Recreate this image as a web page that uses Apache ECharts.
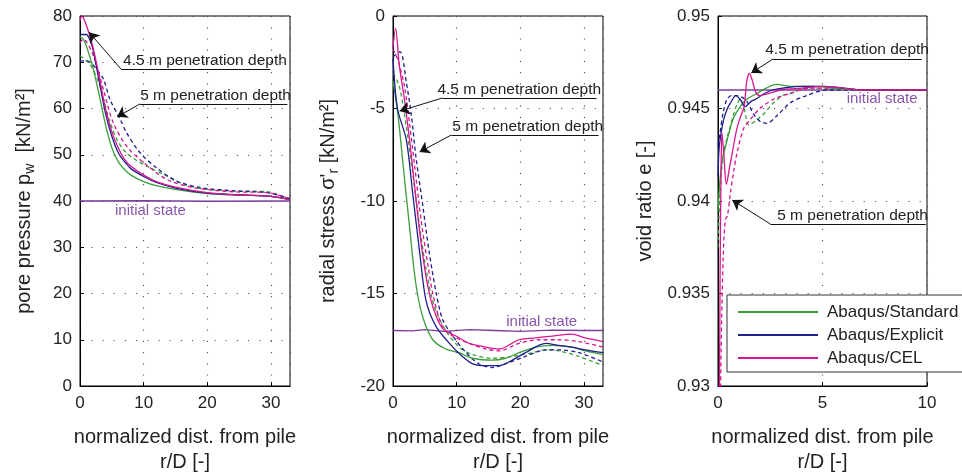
<!DOCTYPE html>
<html>
<head>
<meta charset="utf-8">
<script src="https://cdn.jsdelivr.net/npm/echarts@6/dist/echarts.min.js"></script>
<style>html,body{margin:0;padding:0;background:#fff;}#c{width:962px;height:473px;}</style>
</head>
<body>
<div id="c"></div>
<script>
// ---------- Data: panel 1, pore pressure p_w [kN/m²] vs r/D ----------
const pwStd45 = [[0,75.5],[0.5,75],[1,73.5],[2,69],[3,63],[4,56.5],[5,51.5],[6,48.5],[7,46.8],[8,45.6],[10,44.2],[12,43.3],[15,42.5],[20,41.6],[25,41.3],[28,41.2],[30,41],[33,40.3]];
const pwExp45 = [[0,76],[1,76],[1.5,75],[2,73],[3,66],[4,59],[5,54],[6,50.5],[7,48.5],[8,47],[10,45.3],[12,44],[15,42.8],[20,41.7],[25,41.3],[30,41],[33,40.3]];
const pwCel45 = [[0,79],[0.3,80],[1,78],[2,73.5],[3,67],[4,60],[5,55],[6,51.5],[7,49],[8,47.5],[10,45.6],[12,44.2],[15,43],[20,41.8],[25,41.3],[30,41],[33,40.3]];
const pwStd50 = [[0,71.4],[1.6,69.5],[3.1,65],[4.5,58],[5.8,53.3],[7,50.8],[8.4,49.2],[11,47.2],[13.6,45.4],[16.3,43.6],[20,42.5],[24,42.2],[29.4,42],[32.5,40.7],[33,40.5]];
const pwExp50 = [[0,70.3],[1,70.3],[1.6,70],[2.6,68.5],[3.7,66.3],[4.7,62],[6.3,57.7],[7.3,54.8],[9.4,50.5],[12,47.2],[15.2,44.3],[18.9,42.9],[24,42.2],[29.4,41.8],[32.8,40.6],[33,40.5]];
const pwCel50 = [[0,74.2],[0.5,75],[2.1,71.4],[3.7,64],[5.2,57],[7.3,51.9],[10,48.3],[13.6,44.7],[17.8,42.9],[24,42],[29.4,41.8],[32.8,40.6],[33,40.5]];
const pwInitial = [[0,40],[10,40.05],[20,39.95],[33,40]];

// ---------- Data: panel 2, radial stress σ'_r [kN/m²] vs r/D ----------
const srStd45 = [[0,-3.5],[0.8,-5.4],[1.6,-8.1],[2.6,-11.4],[3.6,-14.5],[4.7,-16.3],[6.25,-17.5],[8.3,-18],[10.4,-18.2],[12.5,-18.5],[15.6,-18.6],[17.7,-18.5],[19.8,-18.2],[22.4,-17.9],[25,-17.8],[28.1,-17.9],[30.2,-18.1],[33,-18.3]];
const srExp45 = [[0,-2.3],[0.7,-5],[2.1,-6.7],[3.1,-9.6],[4.2,-12.8],[5.2,-15.4],[6.8,-16.8],[9.4,-17.9],[10.9,-18.4],[12.5,-18.8],[14.6,-18.9],[16.7,-18.9],[18.75,-18.6],[20.8,-18.2],[24,-17.7],[26,-17.8],[28.1,-17.9],[30.2,-18.05],[33,-18.2]];
const srCel45 = [[0,-1.7],[0.4,-0.67],[1,-2.7],[1.8,-4.5],[2.6,-6.7],[3.4,-9.2],[4.2,-11.7],[5.2,-14.1],[6.25,-15.7],[7.8,-16.9],[9.9,-17.3],[12,-17.7],[14.6,-17.9],[16.7,-18],[19.8,-17.5],[22.4,-17.4],[25,-17.3],[28.1,-17.2],[30.2,-17.4],[33,-17.6]];
const srStd50 = [[0,-3.1],[1,-3.8],[2.1,-6],[3.1,-8.5],[4.2,-11.4],[5.2,-13.7],[6.5,-15.7],[8.3,-17],[10.4,-17.9],[12.5,-18.3],[15.6,-18.5],[18.75,-18.4],[21.9,-18.2],[24,-18.05],[26,-18.1],[29.2,-18.4],[33,-18.9]];
const srExp50 = [[0,-2.2],[1.1,-1.93],[2.1,-3.6],[2.9,-5.4],[3.6,-7.6],[4.7,-10.3],[5.7,-12.8],[6.8,-15],[7.8,-16.4],[9.4,-17.3],[11.5,-18.2],[13.5,-18.8],[15.6,-19],[17.7,-18.8],[20.8,-18.4],[24,-18.05],[26,-18.05],[29.2,-18.2],[33,-18.7]];
const srCel50 = [[0,-1.8],[0.8,-2.4],[1.8,-3.8],[2.6,-5.8],[3.4,-8.1],[4.4,-11],[5.5,-13.5],[6.5,-15.4],[7.8,-16.8],[9.4,-17.3],[12,-17.7],[14.6,-18],[16.7,-18.1],[19.8,-17.7],[22.9,-17.5],[26,-17.5],[29.2,-17.6],[33,-17.9]];
const srInitial = [[0,-17],[3,-17.02],[5,-16.95],[8,-17.05],[12,-16.95],[16,-17],[20,-17.05],[25,-16.98],[30,-17],[33,-17]];

// ---------- Data: panel 3, void ratio e [-] vs r/D ----------
const eStd45 = [[0,0.9395],[0.1,0.9412],[0.2,0.9422],[0.35,0.9429],[0.55,0.9438],[0.75,0.9445],[1.06,0.9451],[1.37,0.9455],[1.85,0.9458],[2.3,0.9461],[2.8,0.9463],[3.5,0.9462],[4.5,0.9462],[6,0.94605],[8,0.946],[10,0.946]];
const eExp45 = [[0,0.9413],[0.05,0.9428],[0.15,0.9437],[0.27,0.9444],[0.45,0.945],[0.6,0.9453],[0.85,0.9457],[1.06,0.9455],[1.3,0.9451],[1.6,0.9454],[1.8,0.9455],[2.2,0.9458],[2.6,0.946],[3.1,0.9461],[4,0.9462],[5.1,0.9462],[7,0.946],[10,0.946]];
const eCel45 = [[0.05,0.925],[0.1,0.936],[0.15,0.942],[0.19,0.9437],[0.28,0.9425],[0.4,0.9409],[0.55,0.9418],[0.73,0.9429],[0.9,0.9439],[1.06,0.9445],[1.25,0.9451],[1.38,0.9465],[1.5,0.9469],[1.62,0.9466],[1.8,0.9459],[2.0,0.9457],[2.4,0.9458],[3.0,0.946],[4,0.9461],[5,0.9462],[7,0.946],[10,0.946]];
const eStd50 = [[0,0.9375],[0.1,0.9405],[0.25,0.9425],[0.43,0.9434],[0.6,0.9441],[0.75,0.9447],[0.9,0.9452],[1.06,0.9455],[1.25,0.945],[1.48,0.9441],[1.86,0.9444],[2.18,0.9447],[2.65,0.9453],[3.1,0.9457],[3.45,0.9458],[4.2,0.9461],[5.5,0.9461],[7,0.946],[10,0.946]];
const eExp50 = [[0,0.943],[0.1,0.9437],[0.25,0.9448],[0.43,0.9455],[0.65,0.9457],[0.9,0.9457],[1.15,0.9456],[1.38,0.9454],[1.7,0.9447],[2.02,0.9443],[2.34,0.9442],[2.81,0.9446],[3.45,0.9453],[4.24,0.9457],[5.2,0.946],[7,0.946],[10,0.946]];
const eCel50 = [[0.08,0.925],[0.15,0.932],[0.25,0.937],[0.35,0.939],[0.45,0.9392],[0.59,0.9404],[0.75,0.9416],[0.91,0.9426],[1.22,0.9439],[1.54,0.9444],[2.0,0.945],[2.65,0.9455],[3.4,0.9458],[4.4,0.9461],[5.5,0.9461],[7,0.946],[10,0.946]];
const eInitial = [[0,0.946],[10,0.946]];

// ---------- Axis ranges / ticks ----------
const xRanges = [[0,33,10],[0,33,10],[0,10,5]];
const yRanges = [[0,80,10],[-20,0,5],[0.93,0.95,0.005]];
const legendNames = ['Abaqus/Standard','Abaqus/Explicit','Abaqus/CEL'];

// ---------- Annotations (data coordinates) ----------
const annotations = [
  [ {text:'4.5 m penetration depth', at:[6.77,70.3], under:[[6.46,68.5],[29.9,68.5]], tip:[1.42,76.5]},
    {text:'5 m penetration depth', at:[9.45,62.7], under:[[9.45,61.0],[32.6,61.0]], tip:[5.83,58.2]} ],
  [ {text:'4.5 m penetration depth', at:[6.98,-4.0], under:[[7.77,-4.43],[31.98,-4.43]], tip:[1.05,-5.14]},
    {text:'5 m penetration depth', at:[9.33,-6.0], under:[[9.17,-6.43],[32.3,-6.43]], tip:[4.17,-7.35]} ],
  [ {text:'4.5 m penetration depth', at:[2.26,0.94816], under:[[2.64,0.94768],[9.75,0.94768]], tip:[1.59,0.94692]},
    {text:'5 m penetration depth', at:[2.83,0.93919], under:[[2.50,0.93876],[9.94,0.93876]], tip:[0.68,0.94005]} ]
];
const initialLabelAt = [[5.5,37.8],[17.8,-16.54],[6.16,0.94551]];

const FONT = '"Liberation Sans", Arial, Helvetica, sans-serif';
const C = {std:'#3c9e3c', exp:'#1e1e8c', cel:'#d6168e', init:'#7a3c9c', initText:'#8a56aa', txt:'#222'};

function ln(name, data, color, dashed, idx, z) {
  return {type:'line', name, data, xAxisIndex:idx, yAxisIndex:idx, symbol:'none', showSymbol:false,
    smooth:0.3, silent:true, animation:false, z:z,
    lineStyle:{color, width:1.3, type: dashed ? [4,3] : 'solid'}, itemStyle:{color}};
}

const grids = [
  {left:80, top:16, width:210, height:370},
  {left:393, top:16, width:210, height:370},
  {left:718, top:16, width:209, height:370}
].map(g => Object.assign(g, {show:true, borderColor:'#000', borderWidth:1, backgroundColor:'rgba(0,0,0,0)',
  containLabel:false, outerBoundsMode:'none'}));

const commonAxis = {
  axisLine:{show:true, onZero:false, lineStyle:{color:'#000', width:1}},
  axisTick:{show:true, inside:true, length:4, lineStyle:{color:'#000'}},
  splitLine:{show:true, lineStyle:{color:'#555', width:1.2, type:[1.2,10]}},
  nameMoveOverlap:false
};

const xAxes = xRanges.map((r,i) => Object.assign({}, commonAxis, {
  type:'value', gridIndex:i, min:r[0], max:r[1], interval:r[2],
  axisLabel:{color:C.txt, fontSize:17, fontFamily:FONT, margin:9, showMaxLabel: i===2,
    formatter: v => (Math.abs(v/r[2] - Math.round(v/r[2])) < 1e-6) ? String(v) : ''},
  name:'normalized dist. from pile\nr/D [-]', nameLocation:'middle', nameGap:39,
  nameTextStyle:{color:C.txt, fontSize:20, fontFamily:FONT, lineHeight:25}
}));

const yNames = [
  '{a|pore pressure p}{s|w}{a|  [kN/m²]}',
  "{a|radial stress σ'}{s|r}{a| [kN/m²]}",
  '{a|void ratio e [-]}'
];
const yGaps = [43, 52, 60];
const yAxes = yRanges.map((r,i) => Object.assign({}, commonAxis, {
  type:'value', gridIndex:i, min:r[0], max:r[1], interval:r[2],
  axisLabel:{color:C.txt, fontSize:17, fontFamily:FONT, margin:8,
    formatter: v => String(+v.toFixed(3))},
  name:yNames[i], nameLocation:'middle', nameGap:yGaps[i], nameRotate:90,
  nameTextStyle:{fontFamily:FONT, rich:{
    a:{fontSize:20, color:C.txt, fontFamily:FONT, lineHeight:26},
    s:{fontSize:14, color:C.txt, fontFamily:FONT, lineHeight:14, verticalAlign:'bottom'}
  }}
}));

const panels = [
  {std45:pwStd45, exp45:pwExp45, cel45:pwCel45, std50:pwStd50, exp50:pwExp50, cel50:pwCel50, init:pwInitial},
  {std45:srStd45, exp45:srExp45, cel45:srCel45, std50:srStd50, exp50:srExp50, cel50:srCel50, init:srInitial},
  {std45:eStd45, exp45:eExp45, cel45:eCel45, std50:eStd50, exp50:eExp50, cel50:eCel50, init:eInitial}
];

const series = [];
panels.forEach((p,i) => {
  series.push(Object.assign(ln('initial state', p.init, C.init, false, i, 1), {smooth:false}));
  series.push(ln('Abaqus/Standard 5 m', p.std50, C.std, true, i, 2));
  series.push(ln('Abaqus/Explicit 5 m', p.exp50, C.exp, true, i, 2));
  series.push(ln('Abaqus/CEL 5 m', p.cel50, C.cel, true, i, 2));
  series.push(ln('Abaqus/Standard', p.std45, C.std, false, i, 3));
  series.push(ln('Abaqus/Explicit', p.exp45, C.exp, false, i, 3));
  series.push(ln('Abaqus/CEL', p.cel45, C.cel, false, i, 3));
  const ann = annotations[i];
  const mlData = [];
  const mpData = [];
  ann.forEach(a => {
    mlData.push([{coord:a.under[0], symbol:'none'}, {coord:a.under[1], symbol:'none'}]);
    mlData.push([{coord:a.under[0], symbol:'none'}, {coord:a.tip, symbol:'arrow', symbolSize:10}]);
    mpData.push({coord:a.at, value:0, symbol:'circle', symbolSize:0,
      label:{show:true, position:'right', distance:0, formatter:a.text, color:'#222', fontSize:15.5, fontFamily:FONT}});
  });
  mpData.push({coord:initialLabelAt[i], value:0, symbol:'circle', symbolSize:0,
    label:{show:true, position:'right', distance:0, formatter:'initial state', color:C.initText, fontSize:15, fontFamily:FONT}});
  series.push({type:'line', name:'annot'+i, data:[], xAxisIndex:i, yAxisIndex:i, silent:true, z:5,
    markLine:{silent:true, animation:false, symbol:['none','arrow'], symbolSize:10, precision:6,
      lineStyle:{color:'#111', width:1, type:'solid'}, label:{show:false}, emphasis:{disabled:true}, data:mlData},
    markPoint:{silent:true, animation:false, data:mpData}
  });
});

const option = {
  animation:false,
  textStyle:{fontFamily:FONT},
  grid:grids, xAxis:xAxes, yAxis:yAxes, series,
  legend:{data:legendNames, orient:'vertical', left:727, top:295, padding:[7,12,4,10],
    itemWidth:80, itemHeight:14, itemGap:3, backgroundColor:'#fff', borderColor:'#333', borderWidth:1,
    itemStyle:{opacity:0, borderWidth:0},
    selectedMode:false, textStyle:{fontSize:17, color:'#222', fontFamily:FONT, lineHeight:20, padding:[0,0,0,4]}}
};
const chart = echarts.init(document.getElementById('c'), null, {renderer:'canvas'});
chart.setOption(option);
</script>
</body>
</html>
